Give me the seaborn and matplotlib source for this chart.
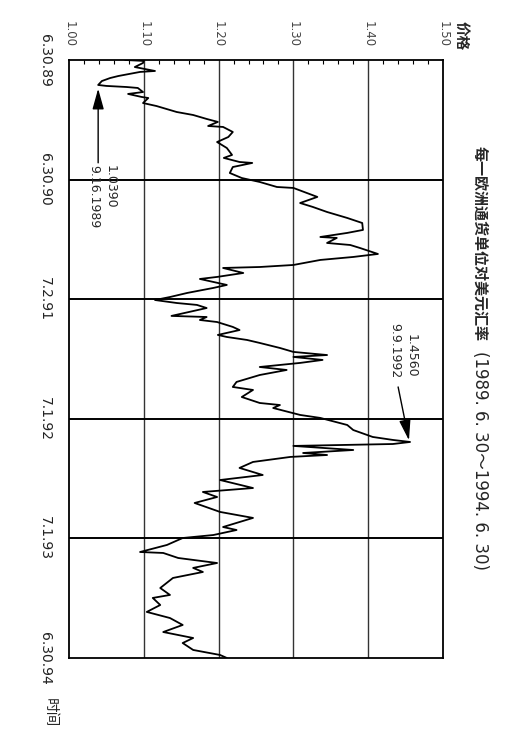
import matplotlib
matplotlib.use("Agg")
import matplotlib.pyplot as plt
import seaborn as sns
import pandas as pd

# ---- data (years since 6.30.1989, USD per ECU) ----
years = [0.000, 0.008, 0.025, 0.059, 0.092, 0.100, 0.134, 0.151, 0.176, 0.209,
         0.217, 0.226, 0.234, 0.268, 0.284, 0.309, 0.318, 0.360, 0.385, 0.435,
         0.460, 0.493, 0.518, 0.552, 0.560, 0.602, 0.644, 0.686, 0.736, 0.794,
         0.819, 0.853, 0.861, 0.895, 0.945, 0.987, 1.020, 1.062, 1.070, 1.112,
         1.145, 1.196, 1.229, 1.271, 1.321, 1.363, 1.421, 1.446, 1.480, 1.488,
         1.530, 1.547, 1.572, 1.622, 1.647, 1.672, 1.714, 1.731, 1.739, 1.781,
         1.814, 1.831, 1.881, 1.906, 1.948, 1.982, 2.007, 2.032, 2.048, 2.074,
         2.140, 2.149, 2.174, 2.191, 2.232, 2.258, 2.299, 2.316, 2.341, 2.366,
         2.408, 2.441, 2.467, 2.483, 2.508, 2.533, 2.567, 2.592, 2.634, 2.692,
         2.734, 2.759, 2.818, 2.868, 2.885, 2.910, 2.968, 2.993, 3.052, 3.094,
         3.152, 3.177, 3.194, 3.211, 3.227, 3.261, 3.286, 3.303, 3.319, 3.361,
         3.411, 3.470, 3.512, 3.579, 3.612, 3.654, 3.704, 3.779, 3.829, 3.905,
         3.930, 3.972, 3.997, 4.055, 4.114, 4.122, 4.164, 4.206, 4.247, 4.281,
         4.331, 4.415, 4.473, 4.498, 4.557, 4.615, 4.666, 4.724, 4.783, 4.833,
         4.875, 4.933, 4.975, 5.000]
price = [1.075, 1.100, 1.099, 1.088, 1.115, 1.095, 1.066, 1.055, 1.044, 1.039,
         1.050, 1.077, 1.092, 1.099, 1.079, 1.097, 1.106, 1.099, 1.117, 1.144,
         1.166, 1.184, 1.199, 1.186, 1.206, 1.219, 1.213, 1.198, 1.211, 1.218,
         1.207, 1.228, 1.245, 1.219, 1.215, 1.231, 1.255, 1.278, 1.300, 1.318,
         1.332, 1.309, 1.326, 1.345, 1.372, 1.392, 1.393, 1.372, 1.336, 1.358,
         1.345, 1.376, 1.389, 1.413, 1.380, 1.336, 1.300, 1.255, 1.206, 1.233,
         1.198, 1.175, 1.211, 1.193, 1.158, 1.135, 1.115, 1.144, 1.171, 1.184,
         1.137, 1.184, 1.175, 1.198, 1.219, 1.228, 1.199, 1.211, 1.238, 1.255,
         1.282, 1.300, 1.345, 1.300, 1.339, 1.309, 1.255, 1.291, 1.255, 1.224,
         1.219, 1.246, 1.231, 1.255, 1.282, 1.273, 1.309, 1.336, 1.372, 1.380,
         1.406, 1.433, 1.456, 1.433, 1.300, 1.380, 1.313, 1.345, 1.296, 1.246,
         1.228, 1.259, 1.202, 1.246, 1.179, 1.198, 1.168, 1.202, 1.246, 1.206,
         1.224, 1.193, 1.152, 1.131, 1.095, 1.126, 1.146, 1.198, 1.166, 1.179,
         1.139, 1.122, 1.135, 1.112, 1.122, 1.104, 1.135, 1.152, 1.126, 1.166,
         1.152, 1.166, 1.202, 1.211]

price_ticks = [1.00, 1.10, 1.20, 1.30, 1.40, 1.50]
price_labels = ["1.00", "1.10", "1.20", "1.30", "1.40", "1.50"]
time_ticks = [0, 1, 2, 3, 4, 5]
time_labels = ["6.30.89", "6.30.90", "7.2.91", "7.1.92", "7.1.93", "6.30.94"]

title_cn = "每一欧洲通货单位对美元汇率"
title_range = "(1989. 6. 30～1994. 6. 30)"
note_low = "1.0390\n9.16.1989"
note_high = "1.4560\n9.9.1992"

df = pd.DataFrame({"year": years, "price": price})

sns.set_theme(style="white")
plt.rcParams["font.family"] = ["DejaVu Sans", "Noto Sans CJK SC"]

fig = plt.figure(figsize=(5.21, 7.35), dpi=100)
ax = fig.add_axes([0.1324, 0.1048, 0.7179, 0.8136])

sns.lineplot(data=df, x="price", y="year", sort=False, estimator=None,
             color="black", linewidth=1.3, ax=ax)

ax.set_xlim(1.0, 1.5)
ax.set_ylim(5.0, 0.0)
ax.set_xlabel("")
ax.set_ylabel("")

for v in price_ticks[1:-1]:
    ax.axvline(v, color="#333333", lw=1.0, zorder=0)
for v in time_ticks[1:-1]:
    ax.axhline(v, color="black", lw=1.4, zorder=0)

for s in ax.spines.values():
    s.set_color("black")
    s.set_linewidth(1.3)

ax.xaxis.tick_top()
ax.set_xticks(price_ticks)
ax.set_xticklabels(price_labels, rotation=-90, fontsize=8.5, color="#444444")
ax.set_xticks([1.0 + 0.02 * i for i in range(26)], minor=True)
ax.tick_params(axis="x", which="major", length=0, pad=9)
ax.tick_params(axis="x", which="minor", direction="in", length=3, width=0.8,
               color="black", top=True, bottom=False)

ax.set_yticks(time_ticks)
ax.set_yticklabels(time_labels, rotation=-90, va="center", fontsize=10,
                   color="#222222")
ax.tick_params(axis="y", which="major", length=0, pad=12)

# annotations
ax.annotate("", xy=(1.039, 0.24), xytext=(1.039, 0.86),
            arrowprops=dict(arrowstyle="-|>,head_length=0.9,head_width=0.25",
                            color="black", lw=1.0, mutation_scale=14,
                            shrinkA=0, shrinkB=0))
ax.text(1.044, 0.878, note_low, rotation=-90, ha="center", va="top",
        multialignment="left", fontsize=9, linespacing=1.35)

ax.annotate("", xy=(1.4545, 3.18), xytext=(1.440, 2.734),
            arrowprops=dict(arrowstyle="-|>,head_length=0.9,head_width=0.25",
                            color="black", lw=1.0, mutation_scale=14,
                            shrinkA=0, shrinkB=0))
ax.text(1.4465, 2.66, note_high, rotation=-90, ha="center", va="bottom",
        multialignment="right", fontsize=9, linespacing=1.35)

# title and axis names
fig.text(0.921, 0.669, title_cn, rotation=-90, ha="center", va="center",
         fontsize=10.8, fontweight="bold", family=["Noto Sans CJK SC"])
fig.text(0.921, 0.374, title_range, rotation=-90, ha="center", va="center",
         fontsize=12, family=["DejaVu Sans", "Noto Sans CJK SC"])
fig.text(0.887, 0.952, "价格", rotation=-90, ha="center", va="center",
         fontsize=10.5, fontweight="bold", family=["Noto Sans CJK SC"])
fig.text(0.096, 0.031, "时间", rotation=-90, ha="center", va="center",
         fontsize=10.5, family=["Noto Sans CJK SC"])

fig.savefig("out.png", dpi=100, facecolor="white")
